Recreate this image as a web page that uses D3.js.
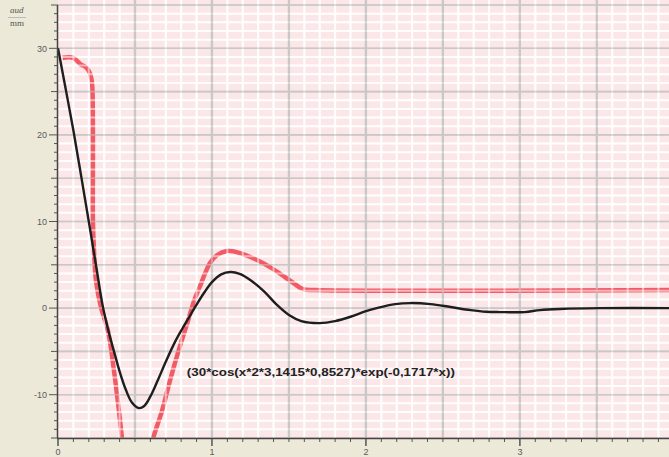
<!DOCTYPE html>
<html><head><meta charset="utf-8">
<script src="https://cdn.jsdelivr.net/npm/d3@7"></script>
<style>
html,body{margin:0;padding:0;background:#ECE9D8;}
svg{display:block;}
</style></head>
<body>
<svg id="chart" width="669" height="457"></svg>
<script>
// ---- data ----
const yLabelValues = [30, 20, 10, 0, -10];
const xLabelValues = [0, 1, 2, 3];
const unitTop = "aud";
const unitBottom = "mm";
const formulaText = "(30*cos(x*2*3,1415*0,8527)*exp(-0,1717*x))";

// black measured curve
const blackX = [0.00, 0.05, 0.10, 0.15, 0.20, 0.25, 0.29, 0.33, 0.37, 0.40, 0.44, 0.48, 0.526, 0.56, 0.60, 0.649, 0.70, 0.76, 0.81, 0.86, 0.90, 0.95, 1.00, 1.06, 1.12, 1.18, 1.26, 1.34, 1.42, 1.50, 1.58, 1.70, 1.80, 1.90, 2.00, 2.07, 2.19, 2.29, 2.42, 2.55, 2.68, 2.78, 2.87, 3.03, 3.13, 3.26, 3.52, 4.00];
const blackY = [30.0, 25.3, 20.5, 15.3, 10.0, 4.6, 0.3, -2.8, -5.4, -7.3, -9.4, -10.9, -11.55, -11.3, -10.2, -8.3, -6.2, -3.9, -2.3, -0.8, 0.4, 1.8, 3.0, 3.9, 4.16, 3.95, 3.1, 1.9, 0.4, -0.8, -1.5, -1.73, -1.5, -1.0, -0.35, 0.0, 0.46, 0.58, 0.46, 0.12, -0.23, -0.42, -0.46, -0.46, -0.23, -0.1, 0.0, 0.0];

// red dashed envelope curve
const redX = [0.030, 0.100, 0.150, 0.175, 0.200, 0.218, 0.224, 0.227, 0.227, 0.234, 0.247, 0.279, 0.325, 0.364, 0.396, 0.416, 0.430, 0.510, 0.590, 0.604, 0.617, 0.675, 0.727, 0.792, 0.844, 0.883, 0.922, 0.955, 0.987, 1.032, 1.097, 1.182, 1.279, 1.377, 1.474, 1.539, 1.591, 1.669, 4.000];
const redY = [28.9, 28.9, 28.1, 27.9, 27.4, 26.4, 25.1, 18.1, 10.0, 6.6, 3.1, 0.1, -2.66, -7.3, -11.9, -15.1, -17.5, -22.0, -17.5, -16.5, -15.1, -11.9, -8.4, -4.4, -1.5, 0.8, 2.5, 4.0, 5.2, 6.1, 6.6, 6.35, 5.66, 4.73, 3.58, 2.77, 2.19, 2.08, 2.08];

// red dashed zero reference line
const zeroX = [0, 4];
const zeroY = [0, 0];

// ---- layout ----
const W = 669, H = 457;
const mLeft = 58, mRight = 670, mTop = 5, mBottom = 438;
const svg = d3.select("#chart");

const x = d3.scaleLinear().domain([0, 3.975]).range([mLeft, mRight]);
const y = d3.scaleLinear().domain([-15, 35]).range([mBottom, mTop]);

svg.append("rect").attr("width", W).attr("height", H).attr("fill", "#ECE9D8");

const defs = svg.append("defs");
defs.append("clipPath").attr("id", "plotclip")
  .append("rect").attr("x", mLeft).attr("y", 0).attr("width", mRight - mLeft).attr("height", mBottom);
const blur = defs.append("filter").attr("id", "soft").attr("x", "-5%").attr("y", "-5%").attr("width", "110%").attr("height", "110%");
blur.append("feGaussianBlur").attr("stdDeviation", 0.7);

// plot background
svg.append("rect").attr("x", mLeft).attr("y", 0).attr("width", mRight - mLeft).attr("height", mBottom)
  .attr("fill", "#FBE7E7");

const plot = svg.append("g").attr("clip-path", "url(#plotclip)");

const line = d3.line().x(d => x(d[0])).y(d => y(d[1])).curve(d3.curveMonotoneX);
const lineC = d3.line().x(d => x(d[0])).y(d => y(d[1])).curve(d3.curveCatmullRom.alpha(0.5));

const minorX = d3.range(0, 41).map(i => i / 10).filter(v => Math.round(v * 10) % 5 !== 0);
const majorX = d3.range(0, 9).map(i => i / 2);
const minorY = d3.range(-15, 36).filter(v => v % 5 !== 0);
const majorY = d3.range(-15, 36, 5);

function drawGrid(g, op) {
  g.selectAll(".gmx").data(minorX).join("line").attr("class", "gmx")
    .attr("x1", d => x(d)).attr("x2", d => x(d)).attr("y1", 0).attr("y2", mBottom)
    .attr("stroke", "#FFFFFF").attr("stroke-opacity", op).attr("stroke-width", 2);
  g.selectAll(".gmy").data(minorY).join("line").attr("class", "gmy")
    .attr("x1", mLeft).attr("x2", mRight).attr("y1", d => y(d)).attr("y2", d => y(d))
    .attr("stroke", "#FFFFFF").attr("stroke-opacity", op).attr("stroke-width", 2);
  g.selectAll(".gMy").data(majorY).join("line").attr("class", "gMy")
    .attr("x1", mLeft).attr("x2", mRight).attr("y1", d => y(d)).attr("y2", d => y(d))
    .attr("stroke", "#C6C6C6").attr("stroke-opacity", op).attr("stroke-width", 1.6);
  g.selectAll(".gMx").data(majorX.filter(d => d > 0)).join("line").attr("class", "gMx")
    .attr("x1", d => x(d)).attr("x2", d => x(d)).attr("y1", 0).attr("y2", mBottom)
    .attr("stroke", "#C6C6C6").attr("stroke-opacity", op).attr("stroke-width", 2.2);
}
drawGrid(plot.append("g"), 0.9);

// red curves
const redPts = redX.map((v, i) => [v, redY[i]]);
const zeroPts = zeroX.map((v, i) => [v, zeroY[i]]);
plot.append("path").datum(zeroPts).attr("d", line)
  .attr("fill", "none").attr("stroke", "#F25A66").attr("stroke-width", 3.5).attr("filter", "url(#soft)");
plot.append("path").datum(redPts).attr("d", lineC)
  .attr("fill", "none").attr("stroke", "#F25A66").attr("stroke-width", 4.5).attr("filter", "url(#soft)");

// grid partially over the red curves (breaks them as in the reference)
drawGrid(plot.append("g"), 0.55);

// black curve
const blackPts = blackX.map((v, i) => [v, blackY[i]]);
plot.append("path").datum(blackPts).attr("d", lineC)
  .attr("fill", "none").attr("stroke", "#1E1E1E").attr("stroke-width", 2.4).attr("stroke-linejoin", "round");

// formula label
svg.append("text").attr("x", x(0.837)).attr("y", y(-7.8))
  .attr("font-family", "Liberation Sans, Arial, sans-serif").attr("font-size", 11).attr("font-weight", "bold")
  .attr("fill", "#222").attr("textLength", 268).attr("lengthAdjust", "spacingAndGlyphs")
  .text(formulaText);

// axes
const axisColor = "#555";
const yAxisTicks = d3.range(-15, 36);
svg.append("g").selectAll("line").data(yAxisTicks).join("line")
  .attr("x1", d => mLeft - (d % 10 === 0 ? 9 : (d % 5 === 0 ? 7 : 4))).attr("x2", mLeft)
  .attr("y1", d => y(d)).attr("y2", d => y(d))
  .attr("stroke", axisColor).attr("stroke-width", 1);
svg.append("line").attr("x1", mLeft - 0.5).attr("x2", mLeft - 0.5).attr("y1", mTop).attr("y2", mBottom)
  .attr("stroke", "#444").attr("stroke-width", 1.5);

const xAxisTicks = d3.range(0, 40).map(i => i / 10);
svg.append("g").selectAll("line").data(xAxisTicks).join("line")
  .attr("x1", d => x(d)).attr("x2", d => x(d))
  .attr("y1", mBottom).attr("y2", d => mBottom + (Math.abs(d - Math.round(d)) < 1e-6 ? 8 : 4))
  .attr("stroke", axisColor).attr("stroke-width", d => (Math.abs(d - Math.round(d)) < 1e-6 ? 1.5 : 1));
svg.append("line").attr("x1", mLeft - 1).attr("x2", mRight).attr("y1", mBottom + 0.5).attr("y2", mBottom + 0.5)
  .attr("stroke", "#444").attr("stroke-width", 1.5);

svg.append("g").selectAll("text").data(yLabelValues).join("text")
  .attr("x", mLeft - 11).attr("y", d => y(d) + 3.2).attr("text-anchor", "end")
  .attr("font-family", "Liberation Sans, Arial, sans-serif").attr("font-size", 9).attr("fill", "#5a5a5a")
  .text(d => d);
svg.append("g").selectAll("text").data(xLabelValues).join("text")
  .attr("x", d => x(d)).attr("y", 455).attr("text-anchor", "middle")
  .attr("font-family", "Liberation Sans, Arial, sans-serif").attr("font-size", 9).attr("fill", "#5a5a5a")
  .text(d => d);

// unit label top-left
svg.append("text").attr("x", 10).attr("y", 13).attr("font-family", "Liberation Serif, serif")
  .attr("font-style", "italic").attr("font-size", 9).attr("fill", "#555").text(unitTop);
svg.append("line").attr("x1", 8).attr("x2", 26).attr("y1", 17.5).attr("y2", 17.5)
  .attr("stroke", "#bbb").attr("stroke-width", 1);
svg.append("text").attr("x", 10).attr("y", 26).attr("font-family", "Liberation Serif, serif")
  .attr("font-size", 9).attr("fill", "#555").text(unitBottom);
</script>
</body></html>
